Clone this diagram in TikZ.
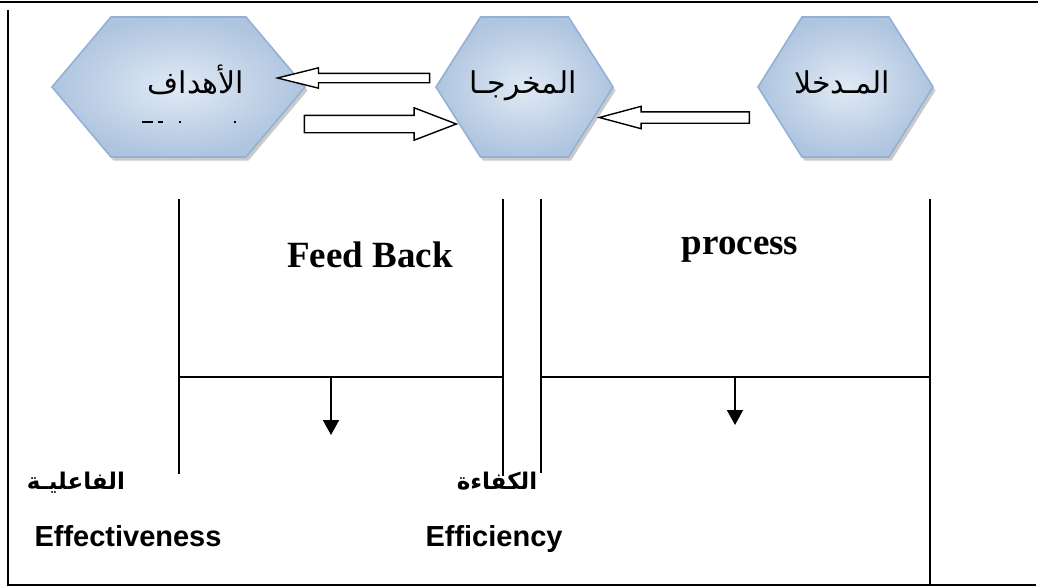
\documentclass[tikz,border=0pt]{standalone}
\usepackage{fontspec}
\setmainfont{Liberation Serif}
\newfontfamily\arial{Liberation Sans}
\newfontfamily\arabicfont[Script=Arabic]{DejaVu Sans}
\usetikzlibrary{shapes.arrows,arrows.meta,shadows}
\TeXXeTstate=1

\definecolor{hexlight}{HTML}{E1EAF5}
\definecolor{hexdark}{HTML}{AEC4DF}
\definecolor{hexline}{HTML}{93B1D6}

\tikzset{
  hexbody/.style={draw=hexline, line width=1.6pt, inner color=hexlight, outer color=hexdark,
    drop shadow={shadow xshift=2.5pt, shadow yshift=-3.5pt, opacity=0.35, fill=black!60}},
  hextext/.style={font=\arabicfont\fontsize{30}{36}\selectfont, inner sep=0pt, anchor=base},
  blockarrow/.style={single arrow, draw=black, line width=1.4pt, fill=white, inner xsep=0pt,
    single arrow head indent=0pt, anchor=center},
  rule/.style={line width=1.6pt},
  frame/.style={line width=2.2pt},
  downarrow/.style={line width=1.8pt, -{Triangle[length=15pt,width=16pt]}},
  titletext/.style={font=\bfseries\fontsize{37}{42}\selectfont, anchor=base, inner sep=0pt},
  entext/.style={font=\arial\bfseries\fontsize{29}{34}\selectfont, anchor=base, inner sep=0pt},
  artext/.style={font=\arabicfont\bfseries\fontsize{23}{28}\selectfont, inner sep=0pt, anchor=base},
}

% hexagon centred at (#2,#3), half width #4, half top edge #5, named #1
\newcommand\hexcell[5]{%
  \path[hexbody, shift={(#2,#3)}] (-#4,0) -- (-#5,-70) -- (#5,-70) -- (#4,0) -- (#5,70) -- (-#5,70) -- cycle;
  \coordinate (#1) at (#2,#3);
}

\begin{document}
\begin{tikzpicture}[x=1pt, y=-1pt]
\useasboundingbox (0,0) rectangle (1038,587);

% outer frame
\draw[frame] (0,2) -- (1038,2);
\draw[frame] (8,10) -- (8,586);
\draw[frame] (8,585) -- (1036,585);

% the three hexagons
\hexcell{goals}{178.5}{87}{126.5}{67.5}
\hexcell{outputs}{524.5}{87}{88.5}{44}
\hexcell{inputs}{845.5}{87}{87.5}{43.5}

\node[hextext] (goalsT) at (196,93) {\beginR الأهداف\endR};
\node[hextext] (outputsT) at (523,93) {\beginR المخرجـا\endR};
\node[hextext] (inputsT) at (842,93) {\beginR المـدخلا\endR};

% cut-off second line of the left hexagon
\draw[line width=1.3pt] (142,122) -- (153,122) (158,122) -- (163,122)
  (179,122) -- (181,122) (234,122) -- (236,122);

% block arrows between the hexagons
\node[blockarrow, minimum height=152pt, inner ysep=4pt, single arrow head extend=5.5pt,
  single arrow tip angle=28, shape border rotate=180] (fbA) at (363,78) {};
\node[blockarrow, minimum height=152pt, inner ysep=8pt, single arrow head extend=7.5pt,
  single arrow tip angle=42] (fbB) at (369,124) {};
\node[blockarrow, minimum height=150pt, inner ysep=5pt, single arrow head extend=5.5pt,
  single arrow tip angle=30, shape border rotate=180] (inA) at (685,117.5) {};

% vertical rules
\coordinate (v1t) at (179,199); \coordinate (v1b) at (179,474);
\coordinate (v2t) at (503,199); \coordinate (v2b) at (503,476);
\coordinate (v3t) at (541,199); \coordinate (v3b) at (541,473);
\coordinate (v4t) at (930,199); \coordinate (v4b) at (930,585);
\draw[rule] (v1t) -- (v1b);
\draw[rule] (v2t) -- (v2b);
\draw[rule] (v3t) -- (v3b);
\draw[rule] (v4t) -- (v4b);

% horizontal rules with their down arrows
\coordinate (h1l) at (179,377); \coordinate (h1r) at (503,377);
\coordinate (h2l) at (541,377); \coordinate (h2r) at (930,377);
\draw[rule] (h1l) -- (h1r);
\draw[rule] (h2l) -- (h2r);
\coordinate (d1s) at (331,377); \coordinate (d1m) at (331,424); \coordinate (d1e) at (331,435);
\coordinate (d2s) at (735,377); \coordinate (d2m) at (735,414); \coordinate (d2e) at (735,425);
\draw[line width=1.8pt] (d1s) -- (d1m);
\draw[line width=1.8pt] (d2s) -- (d2m);
\draw[downarrow] (d1s) -- (d1e);
\draw[downarrow] (d2s) -- (d2e);

% labels
\node[titletext] (feedback) at (370,267) {Feed Back};
\node[titletext] (process) at (740,254) {process};
\node[artext] (effAr) at (76,489) {\beginR الفاعليـة\endR};
\node[artext] (efcAr) at (497,489) {\beginR الكفاءة\endR};
\node[entext] (effEn) at (128,546) {Effectiveness};
\node[entext] (efcEn) at (494,546) {Efficiency};
\end{tikzpicture}
\end{document}
